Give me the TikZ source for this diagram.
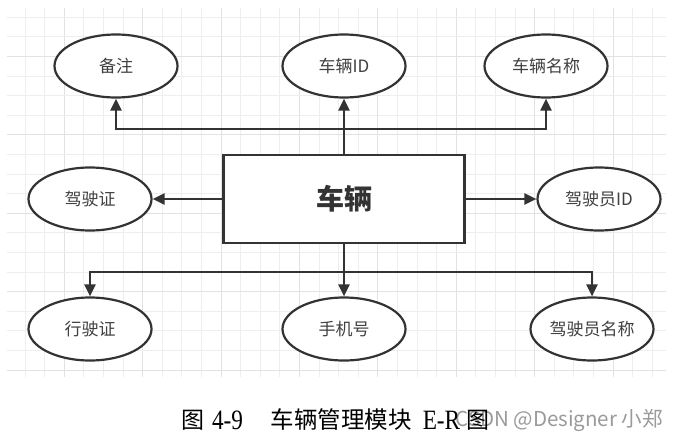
\documentclass[tikz,border=0pt]{standalone}
\usepackage{fontspec}
\usetikzlibrary{shapes.geometric,arrows.meta}
\newfontfamily\cjk{Noto Sans CJK SC}
\newfontfamily\capserif{Liberation Serif}
\definecolor{ink}{HTML}{333333}
\definecolor{label}{HTML}{404040}
\definecolor{gridminor}{HTML}{EEEEEE}
\definecolor{gridmajor}{HTML}{E2E2E2}
\definecolor{mark}{HTML}{9A9A9A}
\tikzset{
  attr/.style={ellipse, draw=ink, line width=2.2pt, fill=white,
    minimum width=123pt, minimum height=63pt, inner sep=0pt,
    font=\cjk\fontsize{17}{17}\selectfont, text=label},
  entity/.style={rectangle, draw=ink, line width=2.2pt, fill=white,
    minimum width=241pt, minimum height=88pt, inner sep=0pt,
    font=\cjk\bfseries\fontsize{28}{28}\selectfont, text=ink},
  link/.style={draw=ink, line width=2.2pt},
  arr/.style={link, -{Triangle[length=12pt,width=11pt]}},
  captxt/.style={inner sep=0pt, text=black},
}
\newcommand{\narrow}[1]{\scalebox{0.83}[1]{#1}}
\begin{document}
\begin{tikzpicture}[x=1pt,y=-1pt]
\useasboundingbox (0,0) rectangle (676,444);
\fill[white] (0,0) rectangle (676,444);

% background grid, every fourth line a little darker
\foreach \i in {0,...,32}{
  \pgfmathtruncatemacro{\m}{mod(\i,4)}
  \ifnum\m=2 \def\gc{gridmajor}\else\def\gc{gridminor}\fi
  \draw[\gc, line width=1pt] ({25+19.6*\i},8) -- ({25+19.6*\i},377);
}
\foreach \j in {0,...,18}{
  \pgfmathtruncatemacro{\m}{mod(\j,4)}
  \ifnum\m=2 \def\gc{gridmajor}\else\def\gc{gridminor}\fi
  \draw[\gc, line width=1pt] (7,{17.3+19.6*\j}) -- (666,{17.3+19.6*\j});
}

% entity
\node[entity] (car) at (344,199) {车辆};

% attributes
\node[attr] (note)   at (116,66)  {备注};
\node[attr] (carid)  at (344,66)  {车辆ID};
\node[attr] (carname) at (546,66) {车辆名称};
\node[attr] (lic)    at (90,199)  {驾驶证};
\node[attr] (drvid)  at (599,199) {驾驶员ID};
\node[attr] (reg)    at (90,329)  {行驶证};
\node[attr] (phone)  at (344,329) {手机号};
\node[attr] (drvname) at (592,329) {驾驶员名称};

% bus junctions
\coordinate (topbus) at (344,129);
\coordinate (botbus) at (344,272);

% connectors
\draw[arr] (car.north) -- (carid.south);
\draw[arr] (topbus) -| (note.south);
\draw[arr] (topbus) -| (carname.south);
\draw[arr] (car.west) -- (lic.east);
\draw[arr] (car.east) -- (drvid.west);
\draw[arr] (car.south) -- (phone.north);
\draw[arr] (botbus) -| (reg.north);
\draw[arr] (botbus) -| (drvname.north);

% watermark (under the caption)
\node[inner sep=0pt, anchor=east, text=mark, font=\cjk\fontsize{20.5}{20.5}\selectfont] (wm) at (663,421) {CSDN @Designer 小郑};

% caption
\node[captxt, font=\cjk\fontsize{23}{23}\selectfont] (c1) at (192.5,420) {图};
\node[captxt, font=\capserif\fontsize{28}{28}\selectfont] (c2) at (227.5,420) {\narrow{4-9}};
\node[captxt, font=\cjk\fontsize{23.5}{23.5}\selectfont] (c3) at (341,420) {车辆管理模块};
\node[captxt, font=\capserif\fontsize{28}{28}\selectfont] (c4) at (441.5,420) {\narrow{E-R}};
\node[captxt, font=\cjk\fontsize{23}{23}\selectfont] (c5) at (477.5,420) {图};
\end{tikzpicture}
\end{document}
